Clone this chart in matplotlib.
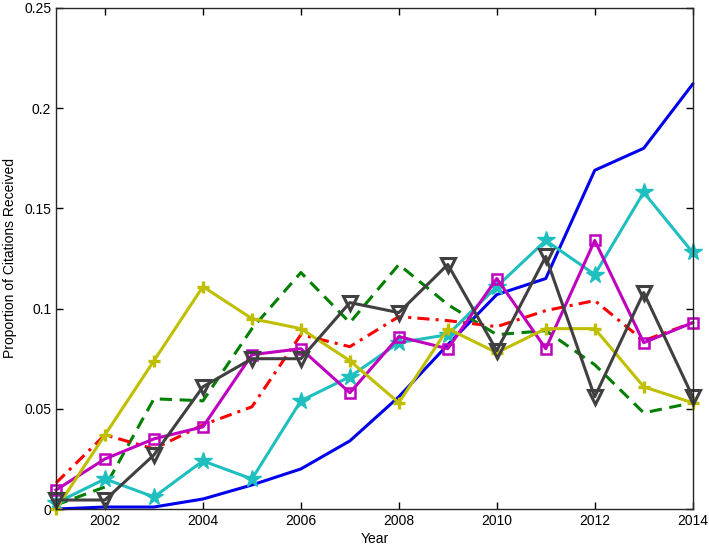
import matplotlib
matplotlib.use('Agg')
import matplotlib.pyplot as plt
import numpy as np

plt.rcParams['font.family'] = ['Liberation Sans', 'DejaVu Sans']

# Years and proportion of citations per series
years = np.arange(2001, 2015)
blue_vals = [0.000, 0.001, 0.001, 0.005, 0.012, 0.020, 0.034, 0.056, 0.082, 0.107, 0.115, 0.169, 0.180, 0.212]
green_vals = [0.002, 0.011, 0.055, 0.054, 0.090, 0.118, 0.093, 0.122, 0.102, 0.087, 0.089, 0.072, 0.048, 0.053]
red_vals = [0.013, 0.037, 0.030, 0.042, 0.051, 0.087, 0.081, 0.096, 0.094, 0.091, 0.099, 0.104, 0.084, 0.093]
cyan_vals = [0.003, 0.015, 0.006, 0.024, 0.015, 0.054, 0.066, 0.083, 0.087, 0.111, 0.134, 0.117, 0.158, 0.128]
magenta_vals = [0.0095, 0.025, 0.035, 0.041, 0.077, 0.080, 0.058, 0.086, 0.080, 0.115, 0.080, 0.134, 0.083, 0.093]
yellow_vals = [0.000, 0.037, 0.074, 0.111, 0.095, 0.090, 0.074, 0.053, 0.090, 0.078, 0.090, 0.090, 0.061, 0.053]
gray_vals = [0.0045, 0.0045, 0.027, 0.061, 0.075, 0.075, 0.103, 0.098, 0.122, 0.079, 0.126, 0.056, 0.108, 0.056]

x_ticks = [2002, 2004, 2006, 2008, 2010, 2012, 2014]
y_ticks = [0, 0.05, 0.1, 0.15, 0.2, 0.25]
y_tick_labels = ['0', '0.05', '0.1', '0.15', '0.2', '0.25']

fig = plt.figure(figsize=(7.09, 5.5), dpi=100)
ax = fig.add_axes([0.079, 0.0745, 0.898, 0.911])

lw = 2.2
ax.plot(years, blue_vals, color='#0000ee', linewidth=lw, clip_on=False)
ax.plot(years, green_vals, color='#007f00', linewidth=lw, linestyle=(0, (4, 2.5)), clip_on=False)
ax.plot(years, red_vals, color='#ff0000', linewidth=lw, linestyle=(0, (4, 2, 1, 2)), clip_on=False)
ax.plot(years, cyan_vals, color='#1fbfbf', linewidth=lw, marker='*', markersize=13, clip_on=False)
ax.plot(years, magenta_vals, color='#bf00bf', linewidth=lw, marker='s', markersize=7,
        markerfacecolor='none', markeredgewidth=1.8, clip_on=False)
ax.plot(years, yellow_vals, color='#bfbf00', linewidth=lw, marker='+', markersize=8,
        markeredgewidth=2.4, clip_on=False)
ax.plot(years, gray_vals, color='#404040', linewidth=lw, marker='v', markersize=10,
        markerfacecolor='none', markeredgewidth=2.2, clip_on=False)

ax.set_xlim(2001, 2014)
ax.set_ylim(0, 0.25)
ax.set_xticks(x_ticks)
ax.set_yticks(y_ticks)
ax.set_yticklabels(y_tick_labels)
ax.tick_params(direction='in', length=5, labelsize=10, top=True, right=True, width=1)
for s in ax.spines.values():
    s.set_linewidth(1)
    s.set_color('#262626')

ax.set_xlabel('Year', fontsize=10, labelpad=3)
ax.set_ylabel('Proportion of Citations Received', fontsize=10, labelpad=5)

fig.savefig('out.png', dpi=100)
